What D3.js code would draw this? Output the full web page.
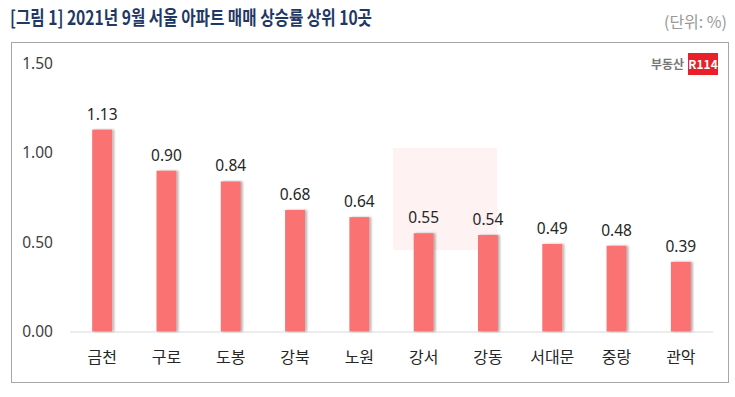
<!DOCTYPE html>
<html>
<head>
<meta charset="utf-8">
<script src="https://cdn.jsdelivr.net/npm/d3@7"></script>
<style>
  body { margin: 0; background: #fff; }
  svg { display: block; font-family: "Noto Sans CJK KR", "Noto Sans", sans-serif; }
</style>
</head>
<body>
<div id="chart"></div>
<script>
// 2021년 9월 서울 아파트 매매 상승률 상위 10곳
const districts = ['금천', '구로', '도봉', '강북', '노원', '강서', '강동', '서대문', '중랑', '관악'];
const rates = [1.13, 0.90, 0.84, 0.68, 0.64, 0.55, 0.54, 0.49, 0.48, 0.39];
const yTicks = [0, 0.5, 1.0, 1.5];

const W = 735, H = 397;
const margin = { top: 63.5, right: 22, bottom: 65.5, left: 70 };
const innerW = W - margin.left - margin.right;
const innerH = H - margin.top - margin.bottom;
const barColor = '#fa7272';

const svg = d3.select('#chart').append('svg')
  .attr('width', W)
  .attr('height', H);

const defs = svg.append('defs');
const shadow = defs.append('filter').attr('id', 'shadow')
  .attr('x', '-20%').attr('y', '-5%').attr('width', '160%').attr('height', '110%');
shadow.append('feDropShadow')
  .attr('dx', 2).attr('dy', 0).attr('stdDeviation', 1.2)
  .attr('flood-color', '#000').attr('flood-opacity', 0.3);

// title
svg.append('text')
  .attr('x', 10).attr('y', 25)
  .attr('font-size', 19.5).attr('font-weight', 'bold')
  .attr('fill', '#1f3864')
  .attr('textLength', 362)
  .attr('lengthAdjust', 'spacingAndGlyphs')
  .text('[그림 1] 2021년 9월 서울 아파트 매매 상승률 상위 10곳');

svg.append('text')
  .attr('x', 727).attr('y', 28)
  .attr('text-anchor', 'end')
  .attr('font-size', 16)
  .attr('fill', '#999')
  .text('(단위: %)');

// frame
svg.append('rect')
  .attr('x', 11.5).attr('y', 42.5)
  .attr('width', 717).attr('height', 340)
  .attr('fill', 'none')
  .attr('stroke', '#a6a6a6')
  .attr('stroke-width', 1);

// faint watermark box
svg.append('rect')
  .attr('x', 393).attr('y', 148).attr('width', 104).attr('height', 102)
  .attr('fill', '#e8202a')
  .attr('opacity', 0.06);

// logo
svg.append('text')
  .attr('x', 684).attr('y', 69)
  .attr('text-anchor', 'end')
  .attr('font-size', 12).attr('font-weight', 'bold')
  .attr('fill', '#777')
  .text('부동산');
svg.append('rect')
  .attr('x', 688).attr('y', 53).attr('width', 30).attr('height', 22)
  .attr('fill', '#e8202a');
svg.append('text')
  .attr('x', 703).attr('y', 69)
  .attr('text-anchor', 'middle')
  .attr('font-size', 12).attr('font-weight', 'bold')
  .attr('fill', '#fff')
  .text('R114');

const g = svg.append('g')
  .attr('transform', `translate(${margin.left},${margin.top})`);

const x = d3.scaleBand()
  .domain(districts)
  .range([0, innerW])
  .paddingInner(0.69)
  .paddingOuter(0.345);

const y = d3.scaleLinear()
  .domain([0, 1.5])
  .range([innerH, 0]);

// y axis labels
const yAxis = d3.axisLeft(y)
  .tickValues(yTicks)
  .tickFormat(d3.format('.2f'))
  .tickSize(0)
  .tickPadding(17);

g.append('g')
  .call(yAxis)
  .call(s => s.select('.domain').remove())
  .call(s => s.selectAll('text')
    .attr('font-size', 15.5)
    .attr('fill', '#404040')
    .attr('font-family', '"Noto Sans", sans-serif'));

// baseline
g.append('line')
  .attr('x1', 0).attr('x2', innerW)
  .attr('y1', y(0) + 0.5).attr('y2', y(0) + 0.5)
  .attr('stroke', '#d9d9d9');

// bars
g.selectAll('.bar')
  .data(districts)
  .enter().append('rect')
  .attr('class', 'bar')
  .attr('x', d => x(d))
  .attr('width', x.bandwidth())
  .attr('y', (d, i) => y(rates[i]))
  .attr('height', (d, i) => y(0) - y(rates[i]))
  .attr('fill', barColor)
  .attr('filter', 'url(#shadow)');

// value labels
g.selectAll('.val')
  .data(districts)
  .enter().append('text')
  .attr('class', 'val')
  .attr('x', d => x(d) + x.bandwidth() / 2)
  .attr('y', (d, i) => y(rates[i]) - 10)
  .attr('text-anchor', 'middle')
  .attr('font-size', 15.5)
  .attr('fill', '#262626')
  .attr('font-family', '"Noto Sans", sans-serif')
  .text((d, i) => d3.format('.2f')(rates[i]));

// x axis labels
const xAxis = d3.axisBottom(x).tickSize(0).tickPadding(20);
g.append('g')
  .attr('transform', `translate(0,${innerH})`)
  .call(xAxis)
  .call(s => s.select('.domain').remove())
  .call(s => s.selectAll('text')
    .attr('font-size', 16)
    .attr('fill', '#262626')
    .attr('font-family', '"Noto Sans CJK KR", sans-serif'));
</script>
</body>
</html>
